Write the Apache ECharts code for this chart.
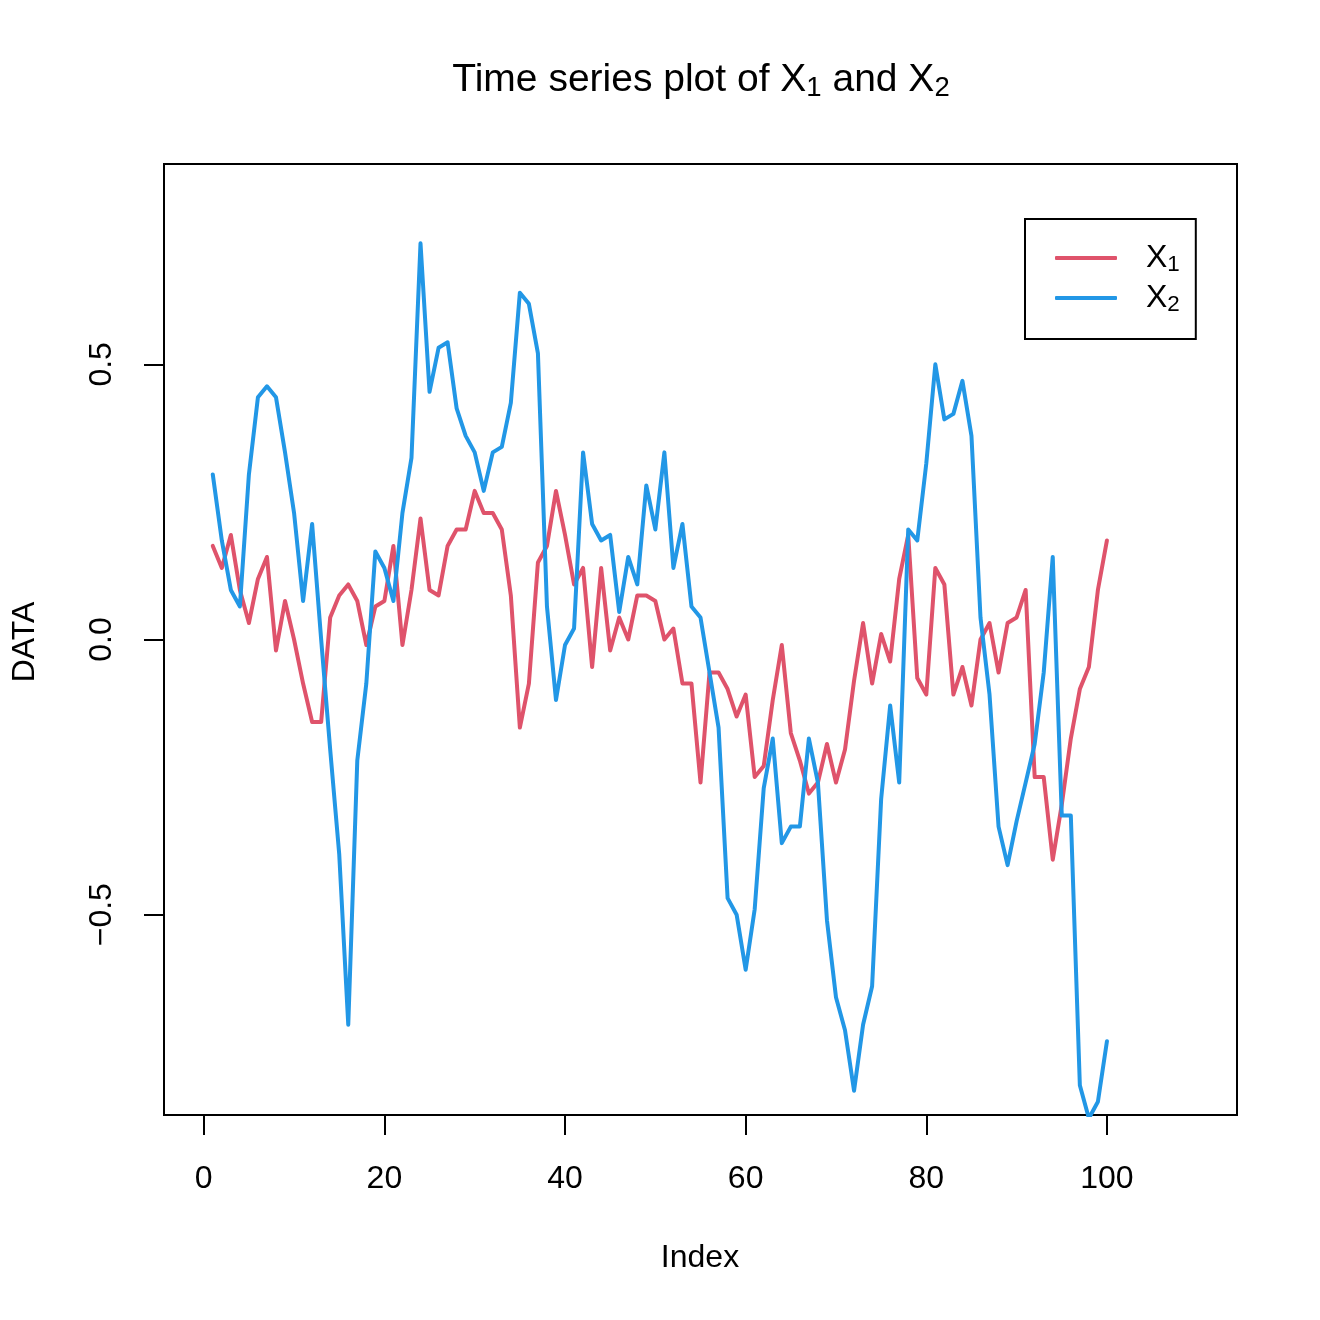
<!DOCTYPE html>
<html>
<head>
<meta charset="utf-8">
<script src="https://cdn.jsdelivr.net/npm/echarts@6/dist/echarts.min.js"></script>
<style>
html,body{margin:0;padding:0;background:#fff;}
#chart{width:1320px;height:1320px;}
</style>
</head>
<body>
<div id="chart"></div>
<script>
// ---- data ----
const seriesNames = ['X1', 'X2'];
const x1Values = [
  0.17, 0.13, 0.19, 0.09, 0.03, 0.11, 0.15, -0.02, 0.07, 0.00,
  -0.08, -0.15, -0.15, 0.04, 0.08, 0.10, 0.07, -0.01, 0.06, 0.07,
  0.17, -0.01, 0.09, 0.22, 0.09, 0.08, 0.17, 0.20, 0.20, 0.27,
  0.23, 0.23, 0.20, 0.08, -0.16, -0.08, 0.14, 0.17, 0.27, 0.19,
  0.10, 0.13, -0.05, 0.13, -0.02, 0.04, 0.00, 0.08, 0.08, 0.07,
  0.00, 0.02, -0.08, -0.08, -0.26, -0.06, -0.06, -0.09, -0.14, -0.10,
  -0.25, -0.23, -0.11, -0.01, -0.17, -0.22, -0.28, -0.26, -0.19, -0.26,
  -0.20, -0.075, 0.03, -0.08, 0.01, -0.04, 0.11, 0.19, -0.07, -0.10,
  0.13, 0.10, -0.10, -0.05, -0.12, 0.00, 0.03, -0.06, 0.03, 0.04,
  0.09, -0.25, -0.25, -0.40, -0.30, -0.18, -0.09, -0.05, 0.09, 0.18
];
const x2Values = [
  0.30, 0.18, 0.09, 0.06, 0.30, 0.44, 0.46, 0.44, 0.34, 0.23,
  0.07, 0.21, 0.00, -0.20, -0.39, -0.70, -0.22, -0.08, 0.16, 0.13,
  0.07, 0.23, 0.33, 0.72, 0.45, 0.53, 0.54, 0.42, 0.37, 0.34,
  0.27, 0.34, 0.35, 0.43, 0.63, 0.61, 0.52, 0.06, -0.11, -0.01,
  0.02, 0.34, 0.21, 0.18, 0.19, 0.05, 0.15, 0.10, 0.28, 0.20,
  0.34, 0.13, 0.21, 0.06, 0.04, -0.06, -0.16, -0.47, -0.50, -0.60,
  -0.49, -0.27, -0.18, -0.37, -0.34, -0.34, -0.18, -0.26, -0.51, -0.65,
  -0.71, -0.82, -0.70, -0.63, -0.29, -0.12, -0.26, 0.20, 0.18, 0.32,
  0.50, 0.40, 0.41, 0.47, 0.37, 0.04, -0.10, -0.34, -0.41, -0.33,
  -0.26, -0.19, -0.06, 0.15, -0.32, -0.32, -0.81, -0.87, -0.84, -0.73
];
const xTicks = [0, 20, 40, 60, 80, 100];
const yTicks = [-0.5, 0, 0.5];
const xRange = [-4.4, 114.4];
const yRange = [-0.864, 0.864];

// ---- chart ----
const FONT = '"Liberation Sans", Arial, Helvetica, sans-serif';
const RED = '#DF536B';
const BLUE = '#2297E6';

function toPairs(vals) { return vals.map((v, i) => [i + 1, v]); }
function fmtY(v) { return v === 0 ? '0.0' : v.toFixed(1).replace('-', '\u2212'); }

const chart = echarts.init(document.getElementById('chart'), null, { renderer: 'canvas' });

const option = {
  backgroundColor: '#ffffff',
  animation: false,
  title: {
    text: '{n|Time series plot of X}{s|1}{n| and X}{s|2}',
    left: 701,
    textAlign: 'center',
    top: 58,
    padding: 0,
    textStyle: {
      fontFamily: FONT,
      fontWeight: 'normal',
      color: '#000',
      rich: {
        n: { fontSize: 39, lineHeight: 44, fontFamily: FONT, color: '#000' },
        s: { fontSize: 27.5, lineHeight: 27, fontFamily: FONT, color: '#000', verticalAlign: 'bottom' }
      }
    }
  },
  legend: {
    orient: 'vertical',
    left: 1025,
    top: 219,
    padding: [23, 16, 23, 30],
    itemGap: 6,
    itemWidth: 62,
    itemHeight: 4,
    icon: 'roundRect',
    borderColor: '#000',
    borderWidth: 2,
    borderRadius: 0,
    data: seriesNames,
    formatter: function (name) { return '{a|X}{s|' + name.slice(1) + '}'; },
    textStyle: {
      fontFamily: FONT,
      color: '#000',
      rich: {
        a: { fontSize: 32, lineHeight: 36, fontFamily: FONT, color: '#000', padding: [0, 0, 0, 24] },
        s: { fontSize: 22.4, lineHeight: 22, fontFamily: FONT, color: '#000', verticalAlign: 'bottom' }
      }
    }
  },
  grid: {
    left: 164, top: 164, right: 83, bottom: 205,
    show: true,
    borderColor: '#000',
    borderWidth: 2,
    backgroundColor: 'transparent',
    containLabel: false
  },
  xAxis: {
    type: 'value',
    min: xRange[0],
    max: xRange[1],
    axisLine: { show: false, onZero: false },
    splitLine: { show: false },
    axisTick: {
      show: true, length: 20, inside: false,
      customValues: xTicks,
      lineStyle: { color: '#000', width: 2 }
    },
    axisLabel: {
      show: true, margin: 48,
      customValues: xTicks,
      fontSize: 32, fontFamily: FONT, color: '#000',
      formatter: function (v) { return String(v); }
    }
  },
  yAxis: {
    type: 'value',
    min: yRange[0],
    max: yRange[1],
    axisLine: { show: false, onZero: false },
    splitLine: { show: false },
    axisTick: {
      show: true, length: 20, inside: false,
      customValues: yTicks,
      lineStyle: { color: '#000', width: 2 }
    },
    axisLabel: {
      show: true, margin: 46, rotate: 90,
      customValues: yTicks,
      fontSize: 32, fontFamily: FONT, color: '#000',
      formatter: fmtY
    }
  },
  graphic: [
    {
      type: 'text', x: 700, y: 1258,
      style: { text: 'Index', fontSize: 32, fontFamily: FONT, fill: '#000', align: 'center', verticalAlign: 'middle' }
    },
    {
      type: 'text', x: 25, y: 642, rotation: Math.PI / 2,
      style: { text: 'DATA', fontSize: 32, fontFamily: FONT, fill: '#000', align: 'center', verticalAlign: 'middle' }
    }
  ],
  series: [
    {
      name: seriesNames[0], type: 'line', data: toPairs(x1Values),
      symbol: 'none', clip: true, color: RED,
      lineStyle: { color: RED, width: 4, cap: 'round', join: 'round' }
    },
    {
      name: seriesNames[1], type: 'line', data: toPairs(x2Values),
      symbol: 'none', clip: true, color: BLUE,
      lineStyle: { color: BLUE, width: 4, cap: 'round', join: 'round' }
    }
  ]
};
chart.setOption(option);
</script>
</body>
</html>
